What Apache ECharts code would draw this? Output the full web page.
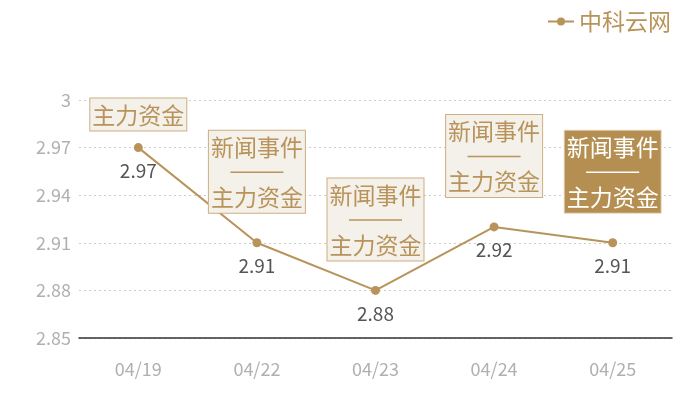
<!DOCTYPE html>
<html>
<head>
<meta charset="utf-8">
<script src="https://cdn.jsdelivr.net/npm/echarts@6/dist/echarts.min.js"></script>
<style>html,body{margin:0;padding:0;background:#fff}#c{width:700px;height:400px}</style>
</head>
<body>
<div id="c"></div>
<script>
var categories = ['04/19', '04/22', '04/23', '04/24', '04/25'];
var values = [2.97, 2.91, 2.88, 2.92, 2.91];
var notes = ['主力资金', '新闻事件\n——\n主力资金', '新闻事件\n——\n主力资金', '新闻事件\n——\n主力资金', '新闻事件\n——\n主力资金'];
var noteGaps = [17, 30, 30, 30, 30];
var highlighted = [false, false, false, false, true];
var seriesName = '中科云网';

var gold = '#b8935a';
var font = '"Noto Sans CJK SC", "Noto Sans", sans-serif';

var markData = categories.map(function (c, i) {
  var hl = highlighted[i];
  var txtColor = hl ? '#ffffff' : gold;
  return {
    coord: [c, values[i]],
    value: notes[i],
    label: {
      show: true,
      position: 'top',
      distance: noteGaps[i],
      formatter: notes[i].replace('——', '{d|}'),
      fontFamily: font,
      fontSize: 23,
      lineHeight: 25,
      color: txtColor,
      backgroundColor: hl ? '#b58f52' : '#f4f0ea',
      borderColor: hl ? '#e6d6bd' : '#cfae80',
      borderWidth: 1,
      padding: [4, 2, 3, 2],
      align: 'center',
      rich: {
        d: { width: 53, height: 1.5, lineHeight: 25, backgroundColor: txtColor }
      }
    }
  };
});

var chart = echarts.init(document.getElementById('c'));
chart.setOption({
  animation: false,
  textStyle: { fontFamily: font },
  legend: {
    right: 24,
    top: 5,
    itemWidth: 26,
    itemHeight: 10,
    itemGap: 7,
    textStyle: { color: gold, fontSize: 23, fontFamily: font },
    data: [seriesName]
  },
  grid: { left: 79, right: 28, top: 100, bottom: 62 },
  xAxis: {
    type: 'category',
    data: categories,
    axisLine: { lineStyle: { color: '#333', width: 1.5 } },
    axisTick: { show: false },
    axisLabel: { color: '#b0b0b0', fontSize: 18, margin: 22, fontFamily: font }
  },
  yAxis: {
    type: 'value',
    min: 2.85,
    max: 3,
    interval: 0.03,
    axisLine: { show: false },
    axisTick: { show: false },
    axisLabel: { color: '#b0b0b0', fontSize: 18, margin: 8, fontFamily: font },
    splitLine: { lineStyle: { color: '#cccccc', type: [2, 3] } }
  },
  series: [{
    name: seriesName,
    type: 'line',
    data: values,
    symbol: 'circle',
    symbolSize: 9,
    itemStyle: { color: gold },
    lineStyle: { color: gold, width: 2 },
    label: {
      show: true,
      position: 'bottom',
      distance: 9,
      color: '#555555',
      fontSize: 19,
      fontFamily: font
    },
    markPoint: {
      symbol: 'circle',
      symbolSize: 0,
      data: markData
    }
  }]
});
</script>
</body>
</html>
